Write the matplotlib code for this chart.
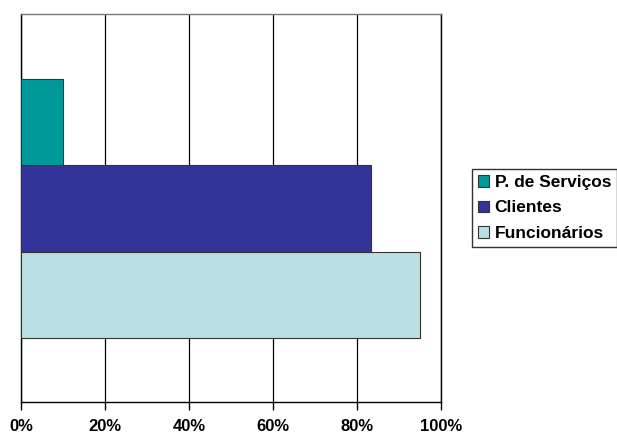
import matplotlib.pyplot as plt
from matplotlib.ticker import FuncFormatter

plt.rcParams['font.family'] = ['Liberation Sans', 'DejaVu Sans']

# Dados: percentual por grupo (de baixo para cima)
grupos = ['Funcionários', 'Clientes', 'P. de Serviços']
valores = [0.95, 0.833, 0.10]
cores = ['#BBE0E3', '#333399', '#009999']

fig = plt.figure(figsize=(6.17, 4.36), dpi=100)
ax = fig.add_axes([0.034, 0.078, 0.681, 0.890])

handles = []
for i, (g, v, c) in enumerate(zip(grupos, valores, cores)):
    h = ax.barh(i, v, height=1.0, color=c, edgecolor='#333333',
                linewidth=0.8, zorder=3, label=g)
    handles.append(h)

ax.set_xlim(0, 1)
ax.set_ylim(-1.245, 3.255)
ax.set_xticks([0, 0.2, 0.4, 0.6, 0.8, 1.0])
ax.xaxis.set_major_formatter(FuncFormatter(lambda x, p: f'{x * 100:.0f}%'))
ax.set_yticks([])
ax.tick_params(axis='x', direction='out', length=6, width=1, pad=6.5,
               labelsize=12)
for t in ax.get_xticklabels():
    t.set_fontweight('bold')

ax.grid(axis='x', color='black', linewidth=0.9, zorder=0)
for s in ax.spines.values():
    s.set_color('black')
    s.set_linewidth(1.0)
ax.spines['top'].set_color('#777777')

# Legenda na ordem de cima para baixo
leg = fig.legend(handles[::-1], grupos[::-1], loc='upper left',
                 bbox_to_anchor=(472 / 617, 1 - 169 / 436),
                 frameon=True, fancybox=False, edgecolor='black',
                 handlelength=0.65, handleheight=0.65, handletextpad=0.3,
                 labelspacing=0.6, borderpad=0.35, borderaxespad=0,
                 prop={'weight': 'bold', 'size': 12.5})
leg.get_frame().set_linewidth(1.0)

fig.savefig('out.png', dpi=100)
